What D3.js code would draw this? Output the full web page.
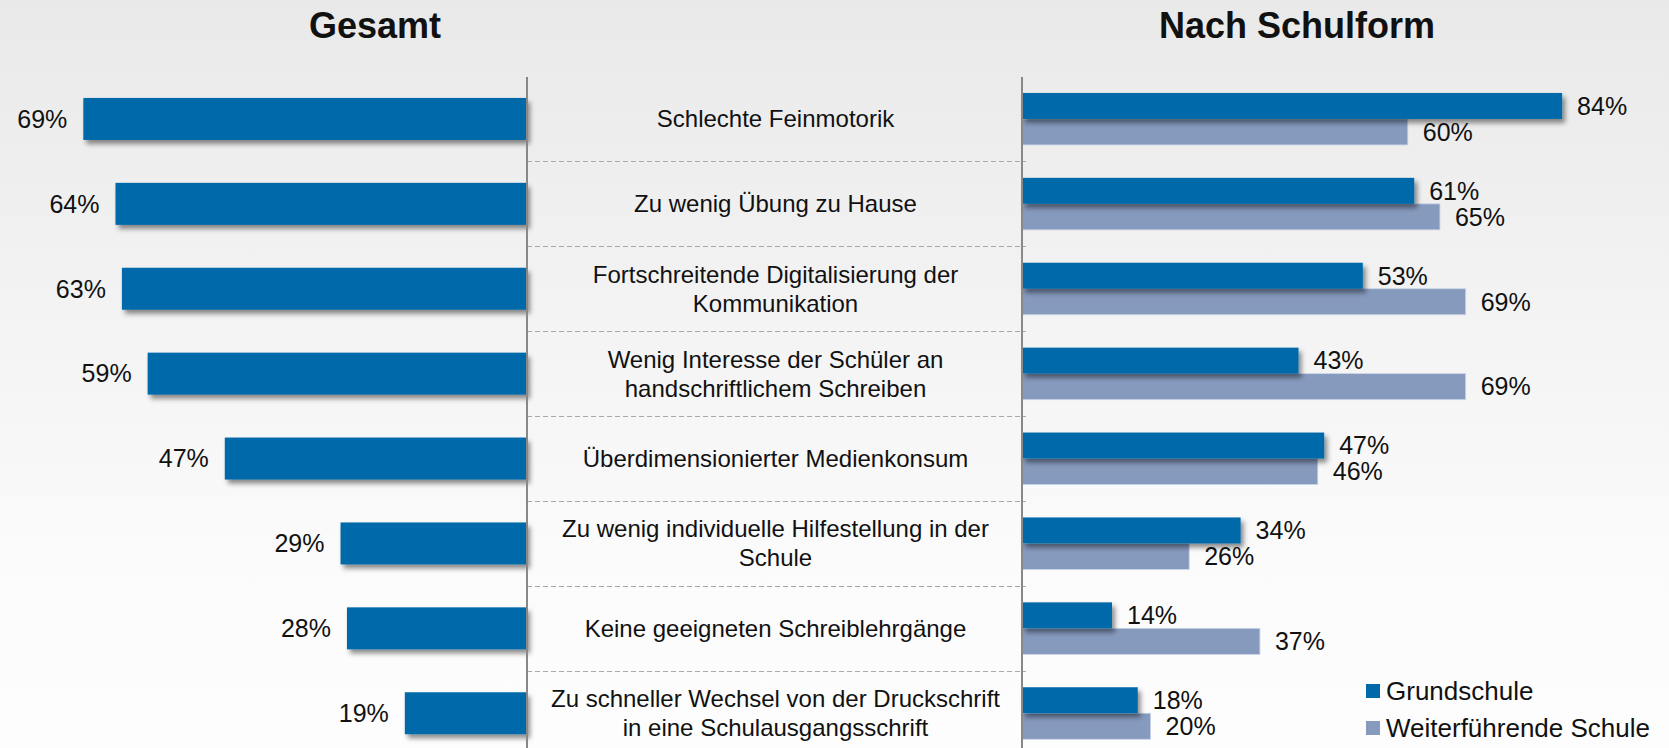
<!DOCTYPE html>
<html>
<head>
<meta charset="utf-8">
<script src="https://cdnjs.cloudflare.com/ajax/libs/d3/7.8.5/d3.min.js"></script>
<style>
  body { margin: 0; padding: 0; overflow: hidden; }
  text { font-family: "Liberation Sans", Arial, sans-serif; fill: #111; }
</style>
</head>
<body>
<div id="chart"></div>
<script>
// categories (line breaks as in the original)
var categories = [
  ["Schlechte Feinmotorik"],
  ["Zu wenig Übung zu Hause"],
  ["Fortschreitende Digitalisierung der", "Kommunikation"],
  ["Wenig Interesse der Schüler an", "handschriftlichem Schreiben"],
  ["Überdimensionierter Medienkonsum"],
  ["Zu wenig individuelle Hilfestellung in der", "Schule"],
  ["Keine geeigneten Schreiblehrgänge"],
  ["Zu schneller Wechsel von der Druckschrift", "in eine Schulausgangsschrift"]
];
var gesamt = [69, 64, 63, 59, 47, 29, 28, 19];
var grundschule = [84, 61, 53, 43, 47, 34, 14, 18];
var weiterfuehrende = [60, 65, 69, 69, 46, 26, 37, 20];
var seriesNames = ["Grundschule", "Weiterführende Schule"];

var w = 1669, h = 748;
var dark = "#0069a9", light = "#869abe";

var svg = d3.select("#chart").append("svg")
  .attr("width", w)
  .attr("height", h);

var defs = svg.append("defs");
var grad = defs.append("linearGradient")
  .attr("id", "bg").attr("x1", 0).attr("y1", 0).attr("x2", 0).attr("y2", 1);
grad.append("stop").attr("offset", "0%").attr("stop-color", "#e9e9e9");
grad.append("stop").attr("offset", "75%").attr("stop-color", "#fbfbfb");
grad.append("stop").attr("offset", "100%").attr("stop-color", "#fdfdfd");

var shadow = defs.append("filter").attr("id", "shadow")
  .attr("x", "-10%").attr("y", "-20%").attr("width", "130%").attr("height", "160%");
shadow.append("feDropShadow")
  .attr("dx", 3).attr("dy", 4).attr("stdDeviation", 2.5)
  .attr("flood-color", "#000").attr("flood-opacity", 0.45);

svg.append("rect").attr("width", w).attr("height", h).attr("fill", "url(#bg)");

// layout
var leftBase = 527, rightBase = 1022;
var topY = 76.5, rowH = 84.9;

var yBand = d3.scaleBand()
  .domain(d3.range(categories.length))
  .range([topY, topY + rowH * categories.length]);

var xLeft = d3.scaleLinear().domain([0, 100]).range([leftBase, leftBase - 643]);
var xRight = d3.scaleLinear().domain([0, 100]).range([rightBase, rightBase + 643]);

// titles
svg.append("text").attr("x", 375).attr("y", 38)
  .attr("text-anchor", "middle").style("font-size", "36px").style("font-weight", "bold")
  .text("Gesamt");
svg.append("text").attr("x", 1297).attr("y", 38)
  .attr("text-anchor", "middle").style("font-size", "36px").style("font-weight", "bold")
  .text("Nach Schulform");

// dashed separators between rows
svg.selectAll(".sep")
  .data(d3.range(1, categories.length))
  .enter().append("line")
  .attr("class", "sep")
  .attr("x1", leftBase).attr("x2", rightBase + 4)
  .attr("y1", function(d) { return Math.round(yBand(d)) + 0.5; })
  .attr("y2", function(d) { return Math.round(yBand(d)) + 0.5; })
  .attr("stroke", "#aaaaaa").attr("stroke-width", 1)
  .attr("stroke-dasharray", "5,3");

// left bars (Gesamt)
var barH = 42;
svg.selectAll(".lbar")
  .data(gesamt)
  .enter().append("rect")
  .attr("class", "lbar")
  .attr("x", function(d) { return xLeft(d); })
  .attr("y", function(d, i) { return yBand(i) + yBand.bandwidth() / 2 - barH / 2; })
  .attr("width", function(d) { return xLeft(0) - xLeft(d); })
  .attr("height", barH)
  .attr("fill", dark)
  .attr("filter", "url(#shadow)");

svg.selectAll(".llab")
  .data(gesamt)
  .enter().append("text")
  .attr("class", "llab")
  .attr("x", function(d) { return xLeft(d) - 16; })
  .attr("y", function(d, i) { return yBand(i) + yBand.bandwidth() / 2; })
  .attr("dy", "0.35em")
  .attr("text-anchor", "end")
  .style("font-size", "25px")
  .text(function(d) { return d + "%"; });

// right bars (Nach Schulform)
var subH = 26;
function subY(i, k) { return yBand(i) + yBand.bandwidth() / 2 - subH + k * subH; }

var groups = [grundschule, weiterfuehrende];
var colors = [dark, light];

// light bars first, dark ones with shadow on top
[1, 0].forEach(function(k) {
  svg.selectAll(".rbar" + k)
    .data(groups[k])
    .enter().append("rect")
    .attr("class", "rbar" + k)
    .attr("x", rightBase)
    .attr("y", function(d, i) { return subY(i, k); })
    .attr("width", function(d) { return xRight(d) - rightBase; })
    .attr("height", subH)
    .attr("fill", colors[k])
    .attr("stroke", k == 1 ? "#c9d4e6" : "none")
    .attr("stroke-width", 0.8)
    .attr("filter", k == 0 ? "url(#shadow)" : null);
});

groups.forEach(function(vals, k) {
  svg.selectAll(".rlab" + k)
    .data(vals)
    .enter().append("text")
    .attr("class", "rlab" + k)
    .attr("x", function(d) { return xRight(d) + 15; })
    .attr("y", function(d, i) { return subY(i, k) + subH / 2; })
    .attr("dy", "0.35em")
    .style("font-size", "25px")
    .text(function(d) { return d + "%"; });
});

// vertical axis lines
[leftBase, rightBase].forEach(function(x) {
  svg.append("line")
    .attr("x1", x).attr("x2", x)
    .attr("y1", 77).attr("y2", h)
    .attr("stroke", "#888").attr("stroke-width", 2);
});

// category labels in the middle
var midX = (leftBase + rightBase) / 2 + 1;
var cat = svg.selectAll(".cat")
  .data(categories)
  .enter().append("text")
  .attr("class", "cat")
  .attr("text-anchor", "middle")
  .style("font-size", "24px");

cat.selectAll("tspan")
  .data(function(d, i) {
    return d.map(function(line, j) { return { line: line, j: j, n: d.length, i: i }; });
  })
  .enter().append("tspan")
  .attr("x", midX)
  .attr("y", function(d) {
    return yBand(d.i) + yBand.bandwidth() / 2 + (d.j - (d.n - 1) / 2) * 29;
  })
  .attr("dy", "0.35em")
  .text(function(d) { return d.line; });

// legend
var legend = svg.selectAll(".legend")
  .data(seriesNames)
  .enter().append("g")
  .attr("class", "legend")
  .attr("transform", function(d, i) { return "translate(1366," + (691 + i * 37) + ")"; });

legend.append("rect")
  .attr("x", 0).attr("y", -7)
  .attr("width", 14).attr("height", 14)
  .attr("fill", function(d, i) { return colors[i]; });

legend.append("text")
  .attr("x", 20)
  .attr("dy", "0.35em")
  .style("font-size", "26px")
  .text(function(d) { return d; });
</script>
</body>
</html>
